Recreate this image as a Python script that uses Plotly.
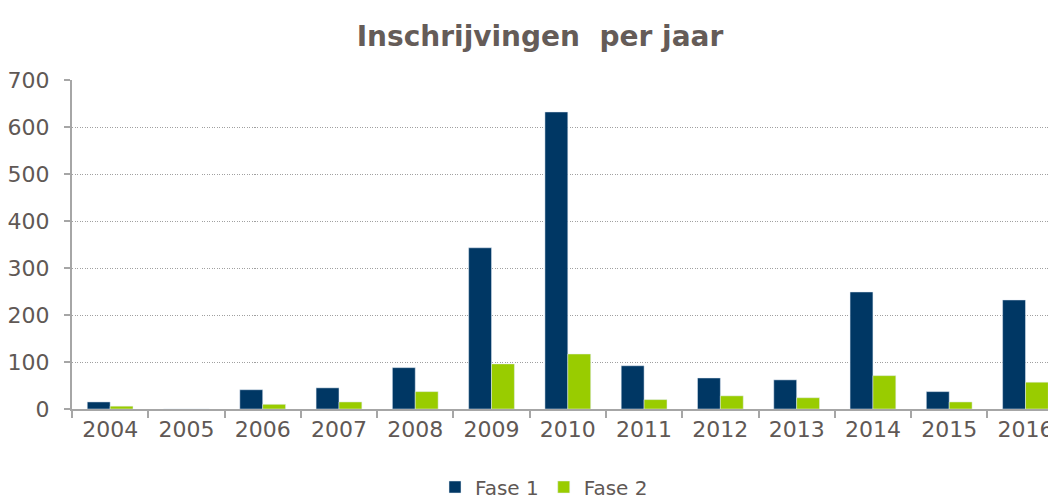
import plotly.graph_objects as go

years = ["2004", "2005", "2006", "2007", "2008", "2009", "2010",
         "2011", "2012", "2013", "2014", "2015", "2016"]
fase1 = [15, 0, 41, 45, 88, 343, 632, 92, 66, 62, 249, 37, 232]
fase2 = [6, 0, 10, 15, 37, 96, 117, 20, 28, 24, 71, 15, 57]

TEXT = "#605855"
AXIS = "#A6A6A6"
FONT = "DejaVu Sans, Verdana, sans-serif"

# page body has an 8px margin: figure is sized/positioned to compensate
W, H = 1048, 495

fig = go.Figure()
fig.add_trace(go.Bar(name="Fase 1", x=years, y=fase1, marker_color="#003764"))
fig.add_trace(go.Bar(name="Fase 2", x=years, y=fase2, marker_color="#99CC00"))

fig.update_layout(
    width=W, height=H,
    paper_bgcolor="white", plot_bgcolor="white",
    margin=dict(l=64, r=0, t=72, b=94, autoexpand=False),
    barmode="group", bargap=0.4, bargroupgap=0,
    font=dict(family=FONT, color=TEXT),
    title=dict(text="<b>Inschrijvingen  per jaar</b>", font=dict(size=28, color="#655C58"),
               x=532/W, xanchor="center", xref="container",
               y=1-28/H, yanchor="middle", yref="container"),
    legend=dict(orientation="h", x=536/W, xanchor="center", xref="container",
                y=1-479/H, yanchor="middle", yref="container",
                font=dict(size=20, color=TEXT), traceorder="normal"),
    showlegend=True,
)
fig.update_xaxes(
    type="category", range=[-0.5, 12.4], automargin=False,
    showline=True, linecolor=AXIS, linewidth=2,
    ticks="outside", tickson="boundaries", ticklen=7, tickcolor=AXIS, tickwidth=2,
    tickfont=dict(size=22, color=TEXT), showgrid=False,
)
fig.update_yaxes(
    range=[0, 700], dtick=100, automargin=False,
    showline=True, linecolor=AXIS, linewidth=2,
    ticks="outside", ticklen=6, tickcolor=AXIS, tickwidth=2,
    tickfont=dict(size=22, color=TEXT), ticklabelstandoff=10,
    showgrid=True, gridcolor="#A0A0A0", griddash="1px,1.5px", gridwidth=1,
    zeroline=False,
)

fig.write_html("out.html")
